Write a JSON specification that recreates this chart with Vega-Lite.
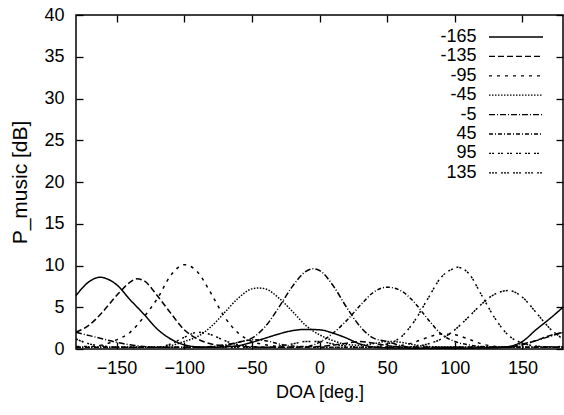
{
"$schema": "https://vega.github.io/schema/vega-lite/v6.json",
"width": 487, "height": 334,
"autosize": {"type": "none"},
"padding": {"left": 76, "top": 15, "right": 1, "bottom": 66},
"background": "white",
"config": {
  "view": {"stroke": "black", "strokeWidth": 1.5},
  "font": "Liberation Sans",
  "axis": {"labelFont": "Liberation Sans", "titleFont": "Liberation Sans", "labelFontSize": 18, "titleFontSize": 18, "labelColor": "black", "titleColor": "black", "titleFontWeight": "normal", "grid": false, "domain": false, "tickColor": "black", "tickSize": -7, "tickWidth": 1.3, "labelFlush": false, "labelOverlap": false}
},
"datasets": {
"c": [
{"s":"-165","x":-180,"y":6.4},{"s":"-165","x":-170,"y":8.1},{"s":"-165","x":-162,"y":8.6},{"s":"-165","x":-160,"y":8.55},{"s":"-165","x":-150,"y":7.7},{"s":"-165","x":-140,"y":5.9},{"s":"-165","x":-130,"y":4.2},{"s":"-165","x":-120,"y":2.4},{"s":"-165","x":-110,"y":1.2},{"s":"-165","x":-100,"y":0.5},{"s":"-165","x":-90,"y":0.25},{"s":"-165","x":-80,"y":0.2},{"s":"-165","x":-70,"y":0.25},{"s":"-165","x":-60,"y":0.4},{"s":"-165","x":-50,"y":0.8},{"s":"-165","x":-40,"y":1.3},{"s":"-165","x":-30,"y":1.8},{"s":"-165","x":-20,"y":2.2},{"s":"-165","x":-10,"y":2.35},{"s":"-165","x":0,"y":2.3},{"s":"-165","x":10,"y":1.9},{"s":"-165","x":20,"y":1.3},{"s":"-165","x":30,"y":0.6},{"s":"-165","x":40,"y":0.25},{"s":"-165","x":50,"y":0.15},{"s":"-165","x":60,"y":0.12},{"s":"-165","x":70,"y":0.1},{"s":"-165","x":80,"y":0.1},{"s":"-165","x":90,"y":0.1},{"s":"-165","x":100,"y":0.1},{"s":"-165","x":110,"y":0.1},{"s":"-165","x":120,"y":0.12},{"s":"-165","x":130,"y":0.15},{"s":"-165","x":140,"y":0.3},{"s":"-165","x":150,"y":0.9},{"s":"-165","x":160,"y":2.3},{"s":"-165","x":170,"y":3.6},{"s":"-165","x":180,"y":5.0},
{"s":"-135","x":-180,"y":2.0},{"s":"-135","x":-170,"y":2.9},{"s":"-135","x":-160,"y":4.5},{"s":"-135","x":-150,"y":6.4},{"s":"-135","x":-140,"y":8.0},{"s":"-135","x":-135,"y":8.4},{"s":"-135","x":-130,"y":8.2},{"s":"-135","x":-120,"y":6.4},{"s":"-135","x":-110,"y":4.3},{"s":"-135","x":-100,"y":2.3},{"s":"-135","x":-90,"y":1.2},{"s":"-135","x":-80,"y":0.6},{"s":"-135","x":-70,"y":0.4},{"s":"-135","x":-60,"y":0.3},{"s":"-135","x":-50,"y":0.25},{"s":"-135","x":-40,"y":0.2},{"s":"-135","x":-30,"y":0.2},{"s":"-135","x":-20,"y":0.2},{"s":"-135","x":-10,"y":0.25},{"s":"-135","x":0,"y":0.3},{"s":"-135","x":10,"y":0.45},{"s":"-135","x":20,"y":0.7},{"s":"-135","x":30,"y":0.9},{"s":"-135","x":40,"y":0.7},{"s":"-135","x":50,"y":0.4},{"s":"-135","x":60,"y":0.25},{"s":"-135","x":70,"y":0.2},{"s":"-135","x":80,"y":0.2},{"s":"-135","x":90,"y":0.2},{"s":"-135","x":100,"y":0.2},{"s":"-135","x":110,"y":0.2},{"s":"-135","x":120,"y":0.2},{"s":"-135","x":130,"y":0.2},{"s":"-135","x":140,"y":0.2},{"s":"-135","x":150,"y":0.5},{"s":"-135","x":160,"y":1.0},{"s":"-135","x":170,"y":1.6},{"s":"-135","x":180,"y":2.0},
{"s":"-95","x":-180,"y":0.3},{"s":"-95","x":-170,"y":0.3},{"s":"-95","x":-160,"y":0.5},{"s":"-95","x":-150,"y":1.1},{"s":"-95","x":-140,"y":2.0},{"s":"-95","x":-130,"y":3.8},{"s":"-95","x":-120,"y":6.0},{"s":"-95","x":-110,"y":8.8},{"s":"-95","x":-100,"y":10.1},{"s":"-95","x":-90,"y":9.2},{"s":"-95","x":-80,"y":6.6},{"s":"-95","x":-70,"y":3.8},{"s":"-95","x":-60,"y":1.9},{"s":"-95","x":-50,"y":0.9},{"s":"-95","x":-40,"y":0.5},{"s":"-95","x":-30,"y":0.3},{"s":"-95","x":-20,"y":0.2},{"s":"-95","x":-10,"y":0.2},{"s":"-95","x":0,"y":0.2},{"s":"-95","x":10,"y":0.2},{"s":"-95","x":20,"y":0.2},{"s":"-95","x":30,"y":0.2},{"s":"-95","x":40,"y":0.2},{"s":"-95","x":50,"y":0.25},{"s":"-95","x":60,"y":0.4},{"s":"-95","x":70,"y":0.8},{"s":"-95","x":80,"y":1.4},{"s":"-95","x":90,"y":1.8},{"s":"-95","x":100,"y":1.7},{"s":"-95","x":110,"y":1.2},{"s":"-95","x":120,"y":0.6},{"s":"-95","x":130,"y":0.3},{"s":"-95","x":140,"y":0.2},{"s":"-95","x":150,"y":0.2},{"s":"-95","x":160,"y":0.2},{"s":"-95","x":170,"y":0.25},{"s":"-95","x":180,"y":0.3},
{"s":"-45","x":-180,"y":0.2},{"s":"-45","x":-170,"y":0.2},{"s":"-45","x":-160,"y":0.2},{"s":"-45","x":-150,"y":0.2},{"s":"-45","x":-140,"y":0.2},{"s":"-45","x":-130,"y":0.2},{"s":"-45","x":-120,"y":0.2},{"s":"-45","x":-110,"y":0.4},{"s":"-45","x":-100,"y":0.9},{"s":"-45","x":-90,"y":1.5},{"s":"-45","x":-80,"y":2.7},{"s":"-45","x":-70,"y":4.4},{"s":"-45","x":-60,"y":6.1},{"s":"-45","x":-50,"y":7.2},{"s":"-45","x":-45,"y":7.3},{"s":"-45","x":-40,"y":7.2},{"s":"-45","x":-30,"y":6.1},{"s":"-45","x":-20,"y":4.5},{"s":"-45","x":-10,"y":2.8},{"s":"-45","x":0,"y":1.7},{"s":"-45","x":10,"y":1.0},{"s":"-45","x":20,"y":0.55},{"s":"-45","x":30,"y":0.45},{"s":"-45","x":40,"y":0.65},{"s":"-45","x":50,"y":0.9},{"s":"-45","x":60,"y":0.8},{"s":"-45","x":70,"y":0.5},{"s":"-45","x":80,"y":0.3},{"s":"-45","x":90,"y":0.25},{"s":"-45","x":100,"y":0.25},{"s":"-45","x":110,"y":0.25},{"s":"-45","x":120,"y":0.25},{"s":"-45","x":130,"y":0.25},{"s":"-45","x":140,"y":0.25},{"s":"-45","x":150,"y":0.25},{"s":"-45","x":160,"y":0.25},{"s":"-45","x":170,"y":0.25},{"s":"-45","x":180,"y":0.25},
{"s":"-5","x":-180,"y":2.0},{"s":"-5","x":-170,"y":1.6},{"s":"-5","x":-160,"y":1.2},{"s":"-5","x":-150,"y":0.8},{"s":"-5","x":-140,"y":0.5},{"s":"-5","x":-130,"y":0.3},{"s":"-5","x":-120,"y":0.2},{"s":"-5","x":-110,"y":0.2},{"s":"-5","x":-100,"y":0.2},{"s":"-5","x":-90,"y":0.2},{"s":"-5","x":-80,"y":0.3},{"s":"-5","x":-70,"y":0.5},{"s":"-5","x":-60,"y":0.8},{"s":"-5","x":-50,"y":1.3},{"s":"-5","x":-40,"y":2.7},{"s":"-5","x":-30,"y":5.0},{"s":"-5","x":-20,"y":7.5},{"s":"-5","x":-10,"y":9.3},{"s":"-5","x":-5,"y":9.6},{"s":"-5","x":0,"y":9.4},{"s":"-5","x":10,"y":7.6},{"s":"-5","x":20,"y":5.0},{"s":"-5","x":30,"y":2.7},{"s":"-5","x":40,"y":1.3},{"s":"-5","x":50,"y":0.9},{"s":"-5","x":60,"y":0.4},{"s":"-5","x":70,"y":0.2},{"s":"-5","x":80,"y":0.2},{"s":"-5","x":90,"y":0.2},{"s":"-5","x":100,"y":0.2},{"s":"-5","x":110,"y":0.2},{"s":"-5","x":120,"y":0.2},{"s":"-5","x":130,"y":0.2},{"s":"-5","x":140,"y":0.2},{"s":"-5","x":150,"y":0.6},{"s":"-5","x":160,"y":1.0},{"s":"-5","x":170,"y":1.5},{"s":"-5","x":180,"y":2.0},
{"s":"45","x":-180,"y":0.2},{"s":"45","x":-170,"y":0.2},{"s":"45","x":-160,"y":0.2},{"s":"45","x":-150,"y":0.2},{"s":"45","x":-140,"y":0.2},{"s":"45","x":-130,"y":0.2},{"s":"45","x":-120,"y":0.2},{"s":"45","x":-110,"y":0.2},{"s":"45","x":-100,"y":0.2},{"s":"45","x":-90,"y":0.2},{"s":"45","x":-80,"y":0.2},{"s":"45","x":-70,"y":0.4},{"s":"45","x":-60,"y":0.8},{"s":"45","x":-50,"y":1.1},{"s":"45","x":-40,"y":1.0},{"s":"45","x":-30,"y":0.6},{"s":"45","x":-20,"y":0.35},{"s":"45","x":-10,"y":0.3},{"s":"45","x":0,"y":0.8},{"s":"45","x":10,"y":1.9},{"s":"45","x":20,"y":3.4},{"s":"45","x":30,"y":5.2},{"s":"45","x":40,"y":6.8},{"s":"45","x":50,"y":7.4},{"s":"45","x":60,"y":7.0},{"s":"45","x":70,"y":5.6},{"s":"45","x":80,"y":3.6},{"s":"45","x":90,"y":1.8},{"s":"45","x":100,"y":0.9},{"s":"45","x":110,"y":0.5},{"s":"45","x":120,"y":0.3},{"s":"45","x":130,"y":0.2},{"s":"45","x":140,"y":0.2},{"s":"45","x":150,"y":0.2},{"s":"45","x":160,"y":0.2},{"s":"45","x":170,"y":0.2},{"s":"45","x":180,"y":0.2},
{"s":"95","x":-180,"y":0.2},{"s":"95","x":-170,"y":0.2},{"s":"95","x":-160,"y":0.2},{"s":"95","x":-150,"y":0.2},{"s":"95","x":-140,"y":0.2},{"s":"95","x":-130,"y":0.2},{"s":"95","x":-120,"y":0.2},{"s":"95","x":-110,"y":0.6},{"s":"95","x":-100,"y":1.4},{"s":"95","x":-90,"y":2.0},{"s":"95","x":-80,"y":1.7},{"s":"95","x":-70,"y":1.0},{"s":"95","x":-60,"y":0.5},{"s":"95","x":-50,"y":0.3},{"s":"95","x":-40,"y":0.2},{"s":"95","x":-30,"y":0.2},{"s":"95","x":-20,"y":0.2},{"s":"95","x":-10,"y":0.2},{"s":"95","x":0,"y":0.2},{"s":"95","x":10,"y":0.2},{"s":"95","x":20,"y":0.2},{"s":"95","x":30,"y":0.2},{"s":"95","x":40,"y":0.25},{"s":"95","x":50,"y":0.6},{"s":"95","x":60,"y":1.4},{"s":"95","x":70,"y":3.3},{"s":"95","x":80,"y":6.0},{"s":"95","x":90,"y":8.6},{"s":"95","x":100,"y":9.7},{"s":"95","x":101.5,"y":9.8},{"s":"95","x":110,"y":9.1},{"s":"95","x":120,"y":6.4},{"s":"95","x":130,"y":3.6},{"s":"95","x":140,"y":1.6},{"s":"95","x":150,"y":0.7},{"s":"95","x":160,"y":0.35},{"s":"95","x":170,"y":0.25},{"s":"95","x":180,"y":0.2},
{"s":"135","x":-180,"y":1.2},{"s":"135","x":-170,"y":0.6},{"s":"135","x":-160,"y":0.35},{"s":"135","x":-150,"y":0.2},{"s":"135","x":-140,"y":0.2},{"s":"135","x":-130,"y":0.2},{"s":"135","x":-120,"y":0.2},{"s":"135","x":-110,"y":0.2},{"s":"135","x":-100,"y":0.2},{"s":"135","x":-90,"y":0.2},{"s":"135","x":-80,"y":0.2},{"s":"135","x":-70,"y":0.2},{"s":"135","x":-60,"y":0.2},{"s":"135","x":-50,"y":0.2},{"s":"135","x":-40,"y":0.2},{"s":"135","x":-30,"y":0.35},{"s":"135","x":-20,"y":0.6},{"s":"135","x":-10,"y":0.9},{"s":"135","x":0,"y":0.9},{"s":"135","x":10,"y":0.6},{"s":"135","x":20,"y":0.35},{"s":"135","x":30,"y":0.2},{"s":"135","x":40,"y":0.2},{"s":"135","x":50,"y":0.2},{"s":"135","x":60,"y":0.2},{"s":"135","x":70,"y":0.3},{"s":"135","x":80,"y":0.6},{"s":"135","x":90,"y":1.2},{"s":"135","x":100,"y":2.3},{"s":"135","x":110,"y":3.8},{"s":"135","x":120,"y":5.4},{"s":"135","x":130,"y":6.6},{"s":"135","x":140,"y":7.0},{"s":"135","x":150,"y":6.2},{"s":"135","x":160,"y":4.4},{"s":"135","x":170,"y":2.5},{"s":"135","x":180,"y":1.2}
]
},
"data": {"name": "c"},
"layer": [
  {
    "mark": {"type": "line", "strokeWidth": 1.5, "color": "black", "interpolate": "monotone"},
    "encoding": {
      "x": {"field": "x", "type": "quantitative", "scale": {"domain": [-180, 180], "nice": false},
            "axis": {"orient": "bottom", "values": [-150, -100, -50, 0, 50, 100, 150], "title": "DOA [deg.]", "labelPadding": 17, "titlePadding": 6}},
      "y": {"field": "y", "type": "quantitative", "scale": {"domain": [0, 40], "nice": false},
            "axis": {"orient": "left", "values": [0, 5, 10, 15, 20, 25, 30, 35, 40], "title": "P_music [dB]", "titleFontSize": 21, "labelPadding": 19, "titlePadding": 13}},
      "strokeDash": {"field": "s", "type": "nominal",
        "scale": {"domain": ["-165", "-135", "-95", "-45", "-5", "45", "95", "135"],
                  "range": [[1, 0], [6, 3], [3, 5], [1.5, 1.5], [6, 2, 1, 2], [4, 2, 1, 2], [2, 1, 2, 4], [2, 1, 2, 1, 2, 4]]},
        "legend": {"orient": "none", "legendX": 430, "legendY": 12, "title": null, "symbolType": "M-3,0H3", "symbolSize": 324, "symbolStrokeWidth": 1.3, "symbolStrokeColor": "black", "symbolFillColor": "transparent", "symbolOpacity": 1, "labelFontSize": 18, "labelFont": "Liberation Sans", "labelColor": "black", "labelAlign": "right", "labelOffset": -49.5, "rowPadding": 0.4, "padding": 0, "labelBaseline": "middle"}}
    }
  },
  {
    "mark": {"type": "point", "opacity": 0},
    "encoding": {
      "x": {"field": "x", "type": "quantitative", "axis": {"orient": "top", "values": [-150, -100, -50, 0, 50, 100, 150], "labels": false, "title": null}},
      "y": {"field": "y", "type": "quantitative", "axis": {"orient": "right", "values": [0, 5, 10, 15, 20, 25, 30, 35, 40], "labels": false, "title": null}}
    }
  }
],
"resolve": {"axis": {"x": "independent", "y": "independent"}}
}
